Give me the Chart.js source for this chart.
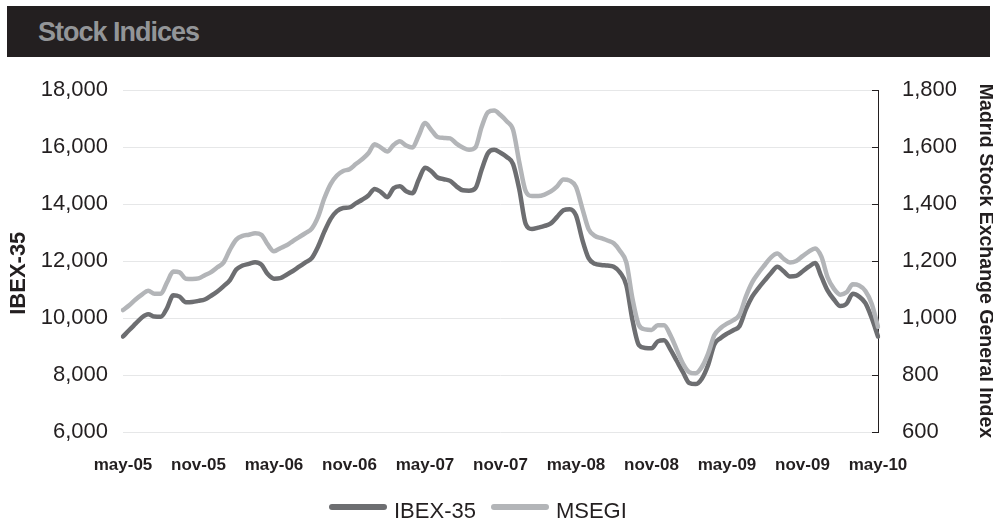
<!DOCTYPE html>
<html>
<head>
<meta charset="utf-8">
<title>Stock Indices</title>
<script src="https://cdn.jsdelivr.net/npm/chart.js@4.4.1/dist/chart.umd.min.js"></script>
<style>
  html, body { margin: 0; padding: 0; background: #fff; overflow: hidden; }
  body { width: 993px; height: 522px; position: relative; font-family: 'Liberation Sans', Arial, Helvetica, sans-serif; }
  #title-bar { position: absolute; left: 7px; top: 6px; width: 983px; height: 51px; background: #231f20; }
  #title-bar span { display: block; padding-left: 31px; line-height: 53px; color: #939598; font-size: 27px; font-weight: bold; letter-spacing: -1px; }
  #chart-box { position: absolute; left: 0; top: 0; width: 993px; height: 522px; }
  #legend { position: absolute; left: 329px; top: 498px; font-size: 22px; line-height: 26px; color: #231f20; white-space: nowrap; }
  #legend .swatch { display: inline-block; width: 58px; height: 6px; border-radius: 3px; vertical-align: middle; position: relative; top: -5px; margin-right: 7px; }
  #legend .label { margin-right: 15px; }
</style>
</head>
<body>
<div id="title-bar"><span>Stock Indices</span></div>
<div id="chart-box"><canvas id="stock-chart" width="993" height="522"></canvas></div>
<div id="legend"></div>
<script>
// x axis: half-month steps from may-05 to may-10
const monthNames = ['jan', 'feb', 'mar', 'apr', 'may', 'jun', 'jul', 'aug', 'sep', 'oct', 'nov', 'dec'];
const periods = [];
for (let i = 0; i <= 120; i++) {
  const m = 4 + Math.floor(i / 2);
  periods.push(monthNames[m % 12] + '-' + String(5 + Math.floor(m / 12)).padStart(2, '0'));
}

// labels shown under the axis, every 6 months
const tickLabels = ['may-05', 'nov-05', 'may-06', 'nov-06', 'may-07', 'nov-07', 'may-08', 'nov-08', 'may-09', 'nov-09', 'may-10'];

// IBEX-35 (left axis)
const ibex = [
  9350, 9580, 9800, 10020, 10130, 10050, 10040, 10350, 10800, 10750,
  10550, 10560, 10600, 10650, 10780, 10930, 11120, 11330, 11700, 11840,
  11900, 11960, 11870, 11540, 11380, 11400, 11520, 11650, 11800, 11950,
  12100, 12500, 13030, 13480, 13750, 13860, 13880, 14020, 14150, 14300,
  14530, 14420, 14240, 14550, 14620, 14450, 14380, 14850, 15270, 15150,
  14930, 14870, 14810, 14620, 14480, 14465, 14550, 15200, 15780, 15900,
  15800, 15650, 15400, 14500, 13300, 13120, 13170, 13230, 13320, 13550,
  13780, 13820, 13600, 12750, 12100, 11900, 11860, 11840, 11800, 11600,
  11150, 9900, 9050, 8950, 8935, 9180, 9220, 8900, 8500, 8100,
  7720, 7680, 7870, 8350, 9080, 9300, 9450, 9570, 9720, 10300,
  10750, 11050, 11320, 11580, 11800, 11640, 11460, 11480, 11630, 11800,
  11930, 11450, 10960, 10650, 10420, 10500, 10850, 10750, 10520, 10000,
  9350
];

// Madrid Stock Exchange General Index (right axis)
const msegi = [
  1028, 1045, 1065, 1082, 1096, 1085, 1085, 1125, 1163, 1160,
  1138, 1137, 1139, 1150, 1161, 1178, 1195, 1240, 1275, 1288,
  1292, 1297, 1292, 1258, 1234, 1245, 1255, 1270, 1284, 1298,
  1314, 1355, 1420, 1470, 1500, 1516, 1522, 1540, 1557, 1578,
  1610, 1598, 1584, 1607, 1620, 1605, 1598, 1640, 1684, 1660,
  1635, 1632, 1630, 1612, 1598, 1590, 1598, 1670, 1722, 1728,
  1712, 1690, 1660, 1545, 1445, 1428, 1428, 1433, 1444, 1462,
  1486, 1482, 1460, 1385, 1312, 1288, 1280, 1272, 1262, 1235,
  1195, 1065, 975, 960, 958, 975, 975, 940, 890, 840,
  810, 806, 828, 875, 940, 965, 980, 992, 1012, 1075,
  1125, 1158, 1186, 1213, 1226, 1208, 1195, 1200, 1217, 1233,
  1244, 1215, 1142, 1102, 1082, 1090, 1118, 1114, 1095, 1050,
  969
];

const textColor = '#231f20';
const fontFamily = "'Liberation Sans', Arial, Helvetica, sans-serif";
Chart.defaults.font.family = fontFamily;
Chart.defaults.color = textColor;

const datasets = [
  {
    label: 'IBEX-35',
    data: ibex,
    yAxisID: 'y',
    borderColor: '#6d6e71',
    backgroundColor: '#6d6e71',
    order: 1
  },
  {
    label: 'MSEGI',
    data: msegi,
    yAxisID: 'y2',
    borderColor: '#b3b5b8',
    backgroundColor: '#b3b5b8',
    order: 0
  }
];

const ctx = document.getElementById('stock-chart').getContext('2d');

const stockChart = new Chart(ctx, {
  type: 'line',
  data: {
    labels: periods,
    datasets: datasets
  },
  options: {
    responsive: false,
    animation: false,
    devicePixelRatio: 1,
    layout: { padding: { top: 90, bottom: 32, left: 0, right: 0 } },
    elements: {
      point: { radius: 0 },
      line: { borderWidth: 4.5, cubicInterpolationMode: 'monotone', borderCapStyle: 'round', borderJoinStyle: 'round' }
    },
    scales: {
      x: {
        grid: { display: false, drawTicks: false },
        border: { display: false },
        ticks: {
          autoSkip: false,
          maxRotation: 0,
          minRotation: 0,
          padding: 23,
          font: { size: 17, weight: 'bold' },
          callback: function(value, index) {
            return index % 12 === 0 ? tickLabels[index / 12] : '';
          }
        },
        afterFit: function(scale) { scale.height = 58; }
      },
      y: {
        position: 'left',
        min: 6000,
        max: 18000,
        ticks: {
          stepSize: 2000,
          padding: 15,
          font: { size: 22 },
          callback: function(value) { return value.toLocaleString('en-US'); }
        },
        grid: { color: '#e6e7e8', drawTicks: false },
        border: { display: false },
        title: {
          display: true,
          text: 'IBEX-35    ', // trailing spaces push the title a bit lower, like the original
          font: { size: 22, weight: 'bold' },
          padding: { top: 6, bottom: 0 }
        },
        afterFit: function(scale) { scale.width = 123; }
      },
      y2: {
        position: 'right',
        min: 600,
        max: 1800,
        ticks: {
          stepSize: 200,
          padding: 30,
          font: { size: 22 },
          callback: function(value) { return value.toLocaleString('en-US'); }
        },
        grid: { drawOnChartArea: false, drawTicks: true, tickLength: -6, color: textColor },
        border: { display: true, color: textColor, width: 1 },
        title: {
          display: true,
          text: 'Madrid Stock Exchange General Index',
          font: { size: 19.5, weight: 'bold', lineHeight: 0.8 },
          padding: 0
        },
        afterFit: function(scale) { scale.width = 115; }
      }
    },
    plugins: {
      legend: { display: false },
      tooltip: { enabled: false }
    }
  }
});

// HTML legend under the chart
const legendBox = document.getElementById('legend');
datasets.forEach(function(ds) {
  const swatch = document.createElement('span');
  swatch.className = 'swatch';
  swatch.style.background = ds.borderColor;
  const label = document.createElement('span');
  label.className = 'label';
  label.textContent = ds.label;
  legendBox.appendChild(swatch);
  legendBox.appendChild(label);
});
</script>
</body>
</html>
